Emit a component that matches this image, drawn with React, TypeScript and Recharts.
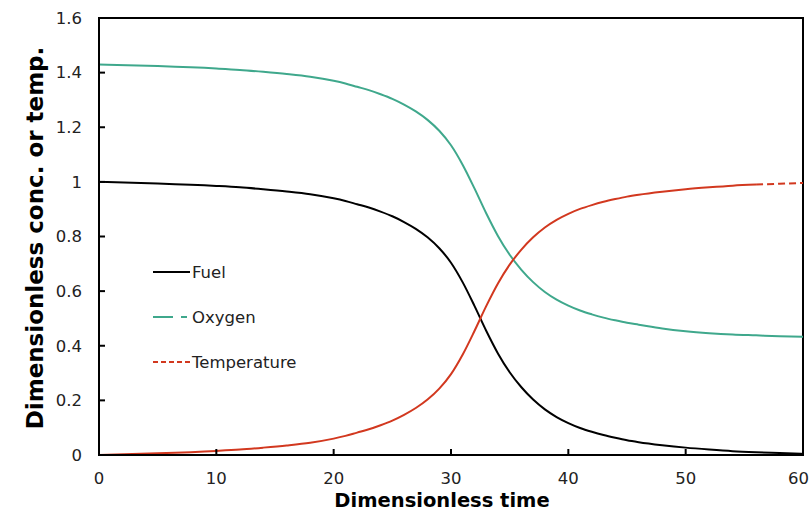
import React from "react";
import { LineChart, Line, XAxis, YAxis, ReferenceArea, Label } from "recharts";

const times = [0, 5, 10, 12, 14, 16, 18, 20, 21, 22, 23, 24, 25, 26, 27, 28, 29, 30, 31, 32, 33, 34, 35, 36, 37, 38, 39, 40, 41, 42, 43, 44, 45, 46, 48, 50, 52, 54, 56, 58, 60];
const fuel = [1.0, 0.994, 0.985, 0.98, 0.973, 0.965, 0.955, 0.94, 0.93, 0.918, 0.906, 0.891, 0.874, 0.853, 0.828, 0.797, 0.757, 0.704, 0.632, 0.546, 0.455, 0.372, 0.303, 0.248, 0.203, 0.167, 0.139, 0.117, 0.099, 0.085, 0.073, 0.063, 0.054, 0.047, 0.036, 0.027, 0.02, 0.014, 0.01, 0.007, 0.004];
const oxygen = [1.43, 1.424, 1.415, 1.41, 1.403, 1.395, 1.385, 1.37, 1.36, 1.348, 1.336, 1.321, 1.304, 1.283, 1.258, 1.227, 1.187, 1.134, 1.062, 0.976, 0.885, 0.802, 0.733, 0.678, 0.633, 0.597, 0.569, 0.547, 0.529, 0.515, 0.503, 0.493, 0.484, 0.477, 0.463, 0.453, 0.446, 0.441, 0.438, 0.435, 0.433];
const temperature = [0.0, 0.006, 0.015, 0.02, 0.027, 0.035, 0.045, 0.06, 0.07, 0.082, 0.094, 0.109, 0.126, 0.147, 0.172, 0.203, 0.243, 0.296, 0.368, 0.454, 0.545, 0.628, 0.697, 0.752, 0.797, 0.833, 0.861, 0.883, 0.901, 0.915, 0.927, 0.937, 0.946, 0.953, 0.964, 0.973, 0.98, 0.986, 0.99, 0.993, 0.996];
const dashStart = 56;

const xTicks = [0, 10, 20, 30, 40, 50, 60];
const yTicks = [0, 0.2, 0.4, 0.6, 0.8, 1, 1.2, 1.4, 1.6];

const data = times.map((t, i) => ({
  t,
  fuel: fuel[i],
  oxygen: oxygen[i],
  tempSolid: t <= dashStart ? temperature[i] : null,
  tempDash: t >= dashStart ? temperature[i] : null,
}));

const FONT = "'DejaVu Sans', Verdana, sans-serif";
const GREEN = "#3fa88c";
const RED = "#d2381f";

const legendItems = [
  { name: "Fuel", color: "#000", dash: undefined as string | undefined },
  { name: "Oxygen", color: GREEN, dash: "20 8 6 8" },
  { name: "Temperature", color: RED, dash: "5 3" },
];

const LegendBox = () => (
  <div style={{ position: "absolute", left: 140, top: 258, width: 180, height: 110 }}>
    <svg width={180} height={110} style={{ overflow: "visible" }}>
      {legendItems.map((it, i) => (
        <g key={it.name} transform={`translate(0, ${i * 45})`}>
          <line x1={13} x2={50} y1={14} y2={14} stroke={it.color} strokeWidth={2} strokeDasharray={it.dash} />
          <text x={52} y={19.5} fontSize={16.5} fontFamily={FONT} fill="#222">
            {it.name}
          </text>
        </g>
      ))}
    </svg>
  </div>
);

const XTick = (props: any) => {
  const { x, y, payload } = props;
  const isLast = payload.value === xTicks[xTicks.length - 1];
  return (
    <text
      x={isLast ? 809 : x}
      y={y}
      dy="0.71em"
      textAnchor={isLast ? "end" : "middle"}
      fontSize={16.5}
      fontFamily={FONT}
      fill="#222"
    >
      {payload.value}
    </text>
  );
};

export default function App() {
  return (
    <div style={{ position: "absolute", left: 0, top: 0, width: 810, height: 514, background: "#fff" }}>
      <LineChart width={810} height={514} data={data} margin={{ top: 18, right: 7, bottom: 0, left: 0 }}>
        <ReferenceArea x1={0} x2={60} y1={0} y2={1.6} fill="none" stroke="#000" strokeWidth={2} ifOverflow="visible" />
        <XAxis
          dataKey="t"
          type="number"
          domain={[0, 60]}
          ticks={xTicks}
          height={59}
          axisLine={{ stroke: "#000", strokeWidth: 2 }}
          tickLine={{ stroke: "#000", strokeWidth: 2 }}
          tickSize={-6}
          tickMargin={23}
          tick={<XTick />}
          interval={0}
        >
          <Label
            content={() => (
              <text x={442} y={507} textAnchor="middle" fontSize={19.5} fontWeight="bold" fontFamily={FONT} fill="#000">
                Dimensionless time
              </text>
            )}
          />
        </XAxis>
        <YAxis
          type="number"
          domain={[0, 1.6]}
          ticks={yTicks}
          width={99}
          axisLine={{ stroke: "#000", strokeWidth: 2 }}
          tickLine={{ stroke: "#000", strokeWidth: 2 }}
          tickSize={-6}
          tickMargin={23}
          tick={{ fontSize: 16.5, fontFamily: FONT, fill: "#222" }}
          interval={0}
        >
          <Label
            content={() => (
              <text
                x={43}
                y={238}
                transform="rotate(-90 43 238)"
                textAnchor="middle"
                fontSize={23}
                fontWeight="bold"
                fontFamily={FONT}
                fill="#000"
              >
                Dimensionless conc. or temp.
              </text>
            )}
          />
        </YAxis>
        <Line type="monotone" dataKey="fuel" stroke="#000" strokeWidth={2} dot={false} isAnimationActive={false} />
        <Line type="monotone" dataKey="oxygen" stroke={GREEN} strokeWidth={2} dot={false} isAnimationActive={false} />
        <Line type="monotone" dataKey="tempSolid" stroke={RED} strokeWidth={2} dot={false} isAnimationActive={false} connectNulls={false} />
        <Line type="monotone" dataKey="tempDash" stroke={RED} strokeWidth={2} strokeDasharray="7 4" dot={false} isAnimationActive={false} connectNulls={false} />
      </LineChart>
      <LegendBox />
    </div>
  );
}
